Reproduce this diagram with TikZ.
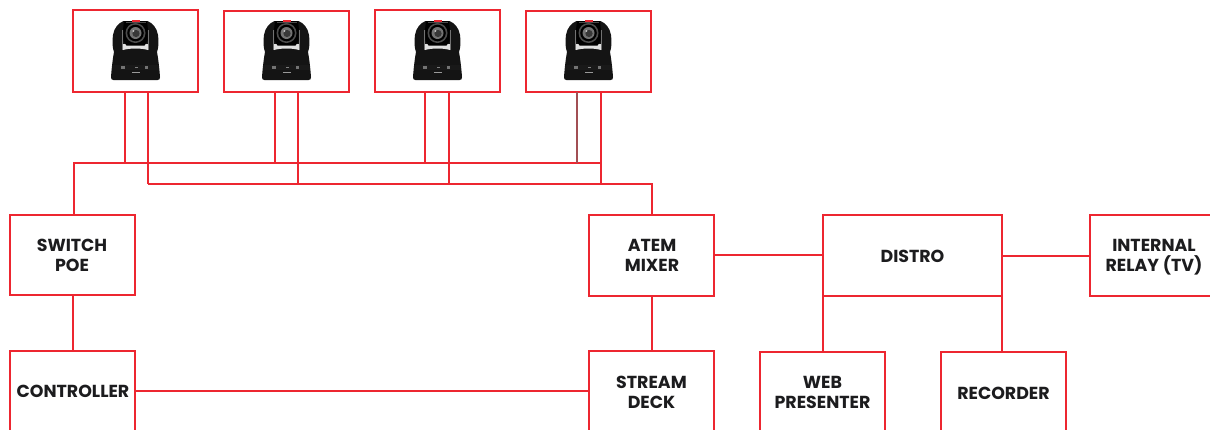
\documentclass[tikz,border=0pt]{standalone}
\usepackage{fontspec}
\setmainfont{Poppins}
\definecolor{redline}{RGB}{237,38,48}
\definecolor{camblack}{RGB}{20,20,20}
\definecolor{camgrey}{RGB}{75,75,75}
\definecolor{inktext}{RGB}{28,28,30}
\tikzset{
  labeltext/.style={font=\fontsize{17.4}{20}\selectfont\bfseries,text=inktext,align=center,inner sep=0pt},
  linebox/.style={draw=redline,line width=1.7pt,fill=white,inner sep=0pt,outer sep=0pt,labeltext},
  wire/.style={draw=redline,line width=1.7pt},
  wiredim/.style={draw=redline!55!black!75,line width=1.7pt},
  campic/.pic={
    % body silhouette
    \fill[camblack] (-12,1) .. controls (-17,3) and (-21.5,8) .. (-22.5,15)
       .. controls (-23.5,22) and (-23,28) .. (-21.5,32)
       .. controls (-23,40) and (-24,50) .. (-24.5,57)
       .. controls (-24.5,59) and (-24,60) .. (-22,60) -- (22,60)
       .. controls (24,60) and (24.5,59) .. (24.5,57)
       .. controls (24,50) and (23,40) .. (21.5,32)
       .. controls (23,28) and (23.5,22) .. (22.5,15)
       .. controls (21.5,8) and (17,3) .. (12,1) -- cycle;
    % light gap under the head
    \fill[white!88!black] (-12.5,24) -- (12.5,24) -- (12.5,30) .. controls (6,28) and (-6,28) .. (-12.5,30) -- cycle;
    \fill[white!45!black] (-13.2,10) rectangle (-12.4,30);
    \fill[white!45!black] (12.4,10) rectangle (13.2,30);
    % head
    \fill[black] (-11.5,1) -- (11.5,1) -- (12.3,8) -- (12,21) -- (9,25.5) -- (-9,25.5) -- (-12,21) -- (-12.3,8) -- cycle;
    \fill[camgrey] (-10,1.5) rectangle (10,3.2);
    \fill[redline] (-4,0) rectangle (4,2.2);
    % lens
    \fill[white!30!black] (0,13) circle (10);
    \fill[black] (0,13) circle (8.3);
    \fill[white!45!black] (0,13) circle (6);
    \fill[white!22!black] (0.5,13.5) circle (3.6);
    \fill[white!78!black] (-2.2,11) circle (1);
    % base panel
    \fill[white!10!black] (-23.3,45) rectangle (23.3,50);
    \fill[white!45!black] (-15,46) rectangle (-11,48.5);
    \fill[white!50!black] (-1,46.5) rectangle (2,48);
    \fill[white!45!black] (9,46) rectangle (12,48.5);
    \fill[white!8!black] (-9,50) rectangle (9,59.5);
    \fill[white!60!black] (-4,52) rectangle (4,53);
  }
}
\begin{document}
\begin{tikzpicture}[x=1pt,y=-1pt]
\useasboundingbox (0,0) rectangle (1210,429);
\clip (0,0) rectangle (1210,429);
% coordinates on the buses
\coordinate (busa) at (601,163);
\coordinate (busb) at (148,184);
\coordinate (busleft) at (74,163);
\coordinate (busright) at (652,184);
% boxes
\node[linebox,minimum width=125pt,minimum height=82pt] (cam1) at (135.5,51) {};
\node[linebox,minimum width=125pt,minimum height=81pt] (cam2) at (286.5,51.5) {};
\node[linebox,minimum width=125pt,minimum height=82pt] (cam3) at (437.5,51) {};
\node[linebox,minimum width=125pt,minimum height=81pt] (cam4) at (588.5,51.5) {};
\node[linebox,minimum width=125pt,minimum height=80pt] (switch) at (72.5,255) {};
\node[labeltext] (switchlabel) at (72,255.5) {SWITCH\\POE};
\node[linebox,minimum width=125pt,minimum height=81pt] (atem) at (651.5,255.5) {};
\node[labeltext] (atemlabel) at (652,255.5) {ATEM\\MIXER};
\node[linebox,minimum width=179pt,minimum height=81pt] (distro) at (912.5,255.5) {};
\node[labeltext] (distrolabel) at (912.5,256.5) {DISTRO};
\node[linebox,minimum width=125pt,minimum height=81pt] (relay) at (1152.5,255.5) {};
\node[labeltext] (relaylabel) at (1154,257.5) {INTERNAL\\RELAY (TV)};
\node[linebox,minimum width=125pt,minimum height=90pt,anchor=north] (controller) at (72.5,351) {};
\node[linebox,minimum width=125pt,minimum height=90pt,anchor=north] (stream) at (651.5,351) {};
\node[linebox,minimum width=125pt,minimum height=90pt,anchor=north] (web) at (822.5,352) {};
\node[linebox,minimum width=125pt,minimum height=90pt,anchor=north] (recorder) at (1003.5,352) {};
\node[labeltext] (controllerlabel) at (73,391) {CONTROLLER};
\node[labeltext] (streamlabel) at (651.5,392) {STREAM\\DECK};
\node[labeltext] (weblabel) at (822.5,392.5) {WEB\\PRESENTER};
\node[labeltext] (recorderlabel) at (1003.5,393) {RECORDER};
% cameras
\pic at (135.5,20) {campic};
\pic at (286.5,20) {campic};
\pic at (437.5,20) {campic};
\pic at (588.5,20) {campic};
% junction coordinates below the cameras
\coordinate (c1a) at (125,92); \coordinate (c1b) at (148,92);
\coordinate (c2a) at (275,92); \coordinate (c2b) at (298,92);
\coordinate (c3a) at (425,92); \coordinate (c3b) at (449,92);
\coordinate (c4a) at (577,92); \coordinate (c4b) at (601,92);
\coordinate (lv1) at (73,296); \coordinate (lv2) at (73,351);
\coordinate (mv1) at (652,296); \coordinate (mv2) at (652,351);
\coordinate (hc1) at (135,391); \coordinate (hc2) at (589,391);
\coordinate (ha1) at (714,255); \coordinate (ha2) at (823,255);
\coordinate (hr1) at (1002,256); \coordinate (hr2) at (1090,256);
\coordinate (dw1) at (823,296); \coordinate (dw2) at (823,352);
\coordinate (dr1) at (1002,296); \coordinate (dr2) at (1002,352);
% wires
\draw[wire] (74,215) -- (busleft) -- (busa);
\draw[wire] (busb) -- (busright) -- (652,215);
\draw[wire] (c1a) -- (c1a |- busa);
\draw[wire] (c1b) -- (c1b |- busb);
\draw[wire] (c2a) -- (c2a |- busa);
\draw[wire] (c2b) -- (c2b |- busb);
\draw[wire] (c3a) -- (c3a |- busa);
\draw[wire] (c3b) -- (c3b |- busb);
\draw[wiredim] (c4a) -- (c4a |- busa);
\draw[wire] (c4b) -- (c4b |- busb);
\draw[wire] (lv1) -- (lv2);
\draw[wire] (mv1) -- (mv2);
\draw[wire] (hc1) -- (hc2);
\draw[wire] (ha1) -- (ha2);
\draw[wire] (hr1) -- (hr2);
\draw[wire] (dw1) -- (dw2);
\draw[wire] (dr1) -- (dr2);
\end{tikzpicture}
\end{document}
